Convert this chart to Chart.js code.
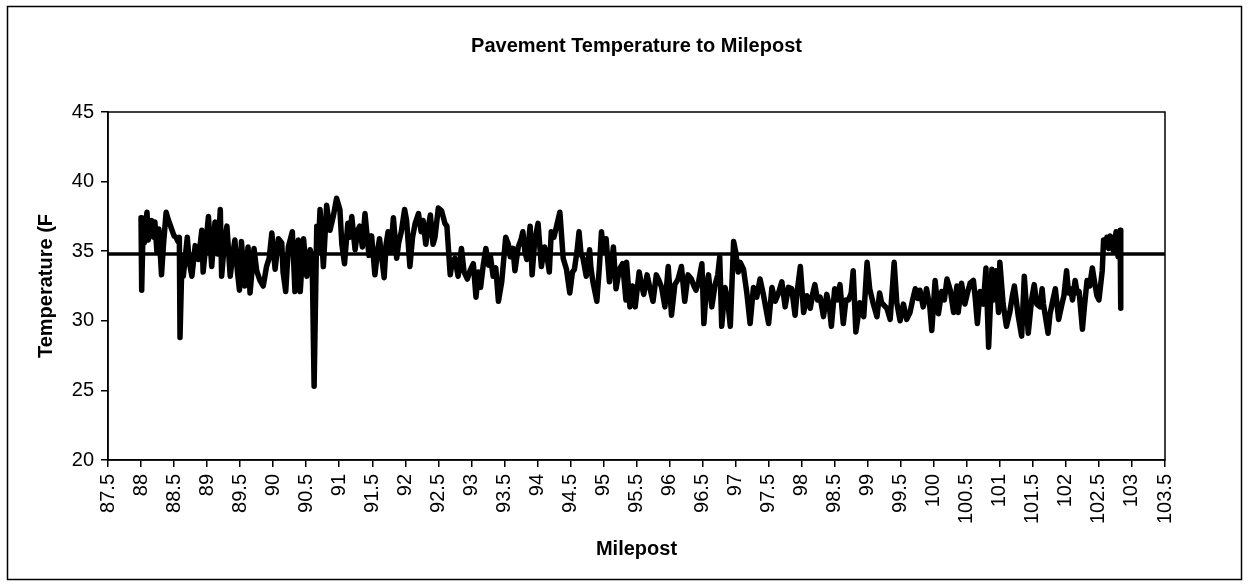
<!DOCTYPE html>
<html><head><meta charset="utf-8">
<script src="https://cdn.jsdelivr.net/npm/chart.js@4.4.1/dist/chart.umd.min.js"></script>
<style>html,body{margin:0;padding:0;background:#fff;}canvas{display:block;}</style>
</head><body><canvas id="c" width="1249" height="587"></canvas>
<script>
const milepost = [
88.00,88.01,88.03,88.05,88.07,88.09,88.11,88.13,88.16,88.19,88.21,88.24,88.27,88.31,88.34,88.38,88.41,88.44,88.47,88.50,
88.53,88.56,88.58,88.59,88.62,88.64,88.70,88.73,88.77,88.82,88.87,88.92,88.94,88.98,89.02,89.07,89.12,89.16,89.20,89.22,
89.26,89.30,89.35,89.39,89.42,89.46,89.49,89.52,89.57,89.62,89.65,89.71,89.75,89.80,89.85,89.90,89.94,89.98,90.03,90.08,
90.13,90.15,90.19,90.23,90.29,90.33,90.38,
90.41,90.46,90.51,90.56,90.59,90.62,90.66,90.68,90.71,90.76,90.81,90.86,90.91,90.96,91.01,91.04,91.08,91.13,91.16,91.19,
91.24,91.28,91.31,91.35,91.39,91.45,91.49,91.54,91.58,91.61,91.65,91.68,91.71,91.74,91.78,91.82,91.87,91.90,91.94,91.99,
92.02,92.07,92.11,92.15,92.20,92.24,92.27,92.31,92.35,92.38,92.42,92.45,92.50,92.55,92.60,92.63,92.68,92.71,92.75,92.80,
92.85,92.89,92.94,92.98,93.03,93.07,93.11,93.14,93.18,93.22,93.26,93.29,93.33,93.37,93.41,93.46,93.52,93.56,93.59,93.63,
93.66,93.71,93.75,93.78,93.81,93.84,93.89,93.92,93.96,94.01,94.06,94.09,94.11,94.15,94.18,94.21,94.25,94.29,94.34,94.36,
94.39,94.44,94.49,94.53,94.56,94.60,94.63,94.66,94.69,94.74,94.79,94.81,94.84,94.90,94.94,94.97,95.00,95.04,95.09,95.15,
95.19,95.24,95.29,95.34,
95.35,95.40,95.44,95.48,95.54,95.58,95.61,95.66,95.71,95.75,95.80,95.84,95.88,95.93,95.98,96.03,96.08,96.13,96.18,96.23,
96.28,96.33,96.37,96.40,96.44,96.49,96.52,96.56,96.59,96.64,96.69,96.73,96.76,96.79,96.84,96.88,96.92,96.97,97.00,97.04,
97.07,97.12,97.17,97.22,97.27,97.32,97.37,97.42,97.50,97.55,97.60,97.65,97.70,97.75,97.80,
97.85,97.90,97.93,97.98,98.03,98.08,98.13,98.17,98.20,98.24,98.28,98.33,98.38,98.42,98.45,98.50,98.54,98.58,98.63,98.67,
98.71,98.75,98.78,98.82,98.86,98.88,98.94,98.99,99.03,99.08,99.14,99.18,99.21,99.29,99.34,99.40,99.44,99.49,99.54,99.59,
99.64,99.68,99.72,99.76,99.79,99.84,99.89,99.94,99.97,100.02,100.07,100.12,100.16,100.20,100.25,100.30,100.35,
100.37,100.42,100.47,100.51,100.55,100.60,100.63,100.66,100.70,100.75,100.79,100.83,100.88,100.91,100.94,100.98,101.00,101.05,101.10,101.15,
101.19,101.22,101.28,101.33,101.37,101.41,101.43,101.48,101.52,101.56,101.61,101.64,101.66,101.73,101.76,101.79,101.84,101.89,101.94,101.97,
102.01,102.04,102.07,102.10,102.14,102.17,102.20,102.25,102.28,102.32,102.36,102.40,102.44,102.47,102.50,102.55,102.57,102.60,102.62,102.65,
102.67,102.70,102.72,102.76,102.79,102.82,102.83
];
const temperature = [
37.4,32.2,36.5,35.6,37.0,37.8,35.8,36.8,37.2,36.0,37.1,35.0,36.6,33.3,35.5,37.8,37.3,36.9,36.5,36.1,
36.0,35.7,36.0,28.8,34.5,33.2,36.0,34.2,33.2,35.4,34.4,36.5,33.5,35.4,37.5,33.9,37.1,34.8,38.0,33.2,
35.5,36.8,33.2,34.8,35.8,33.5,32.2,35.7,32.5,35.3,32.0,35.2,33.6,32.9,32.5,33.9,34.5,36.3,33.7,35.9,
35.6,33.5,32.1,35.3,36.4,32.1,35.8,
32.1,35.9,33.2,35.1,34.6,25.3,36.8,35.0,38.0,33.9,38.3,36.5,37.5,38.8,38.0,35.5,34.1,37.0,36.0,37.5,
35.1,36.5,36.8,35.3,37.7,34.7,36.1,33.3,35.0,35.9,34.3,33.1,35.5,36.4,35.0,37.4,34.5,35.6,36.4,38.0,
37.2,33.9,36.0,37.0,37.7,36.4,37.2,35.5,36.8,37.6,35.5,36.0,38.1,37.9,37.0,36.8,33.3,34.2,34.5,33.2,
35.2,33.5,33.0,33.6,34.1,31.7,33.5,32.4,34.0,35.2,34.0,34.6,33.2,33.8,31.4,32.8,36.0,35.5,34.6,35.2,
33.6,35.3,35.8,36.4,35.0,34.4,36.8,33.3,35.8,37.0,33.9,34.8,35.3,34.5,33.5,36.4,36.0,36.8,37.8,36.5,
34.5,33.7,32.0,33.5,33.7,35.0,36.4,34.8,34.5,33.2,35.1,33.8,32.8,31.4,34.0,36.4,35.0,35.9,32.8,35.3,
32.3,33.7,34.1,31.5,
34.2,31.0,32.5,31.0,33.5,32.5,31.9,33.3,32.2,31.4,33.3,32.9,32.4,31.0,33.9,30.4,32.6,33.0,33.9,31.4,
33.3,33.0,32.5,32.2,32.8,34.1,29.8,32.5,33.3,31.0,32.6,33.3,34.6,29.6,32.4,31.5,29.6,35.7,35.0,33.5,
34.2,33.7,32.0,29.8,32.4,31.7,33.0,31.9,29.8,32.4,31.4,32.0,32.8,31.0,32.4,
32.3,30.4,32.0,33.9,30.6,31.8,30.9,32.0,32.6,31.5,31.7,30.3,31.9,31.0,29.6,32.3,31.5,32.6,29.8,31.5,
31.5,32.0,33.6,29.2,30.5,31.3,30.3,34.2,32.3,31.3,30.3,32.0,31.3,30.9,30.1,34.2,31.3,30.0,31.2,30.1,
30.6,31.5,32.3,31.6,32.2,31.0,32.3,31.0,29.3,32.9,30.5,32.1,31.5,33.0,32.2,30.6,32.5,
30.6,32.7,31.2,32.0,32.7,32.9,31.5,29.8,32.1,31.2,33.8,28.1,33.7,31.5,33.6,30.6,34.2,31.2,29.6,30.6,
31.8,32.5,30.3,28.9,33.2,30.5,29.1,31.5,32.6,31.2,31.0,32.3,31.2,29.1,30.5,31.2,32.3,30.1,31.2,31.8,
33.6,32.0,32.3,31.5,32.9,32.0,32.1,29.4,31.0,32.9,32.5,33.8,32.6,31.8,31.5,33.6,35.8,35.3,36.0,35.2,
36.1,35.5,35.0,36.4,34.6,36.5,30.9
];
const averageMile = [87.5, 103.5];
const averageTemp = [34.8, 34.8];
const xRange = [87.5, 103.5];
const yRange = [20, 45];

const series = milepost.map((m, i) => ({x: m, y: temperature[i]}));
const avgSeries = averageMile.map((m, i) => ({x: m, y: averageTemp[i]}));

const frame = {
  id: 'frame',
  beforeDraw(chart) {
    const ctx = chart.ctx;
    ctx.save(); ctx.fillStyle = '#fff'; ctx.fillRect(0, 0, chart.width, chart.height); ctx.restore();
  },
  afterDraw(chart) {
    const {ctx, chartArea: a} = chart;
    ctx.save();
    ctx.strokeStyle = '#000';
    ctx.lineWidth = 1.5;
    ctx.strokeRect(a.left, a.top, a.right - a.left, a.bottom - a.top);
    ctx.strokeRect(7.5, 6.5, 1234, 573);
    ctx.restore();
  }
};

const FONT = "'Liberation Sans', Arial, sans-serif";
new Chart(document.getElementById('c'), {
  type: 'line',
  data: {
    datasets: [
      {data: series, borderColor: '#000', borderWidth: 5.5, pointRadius: 0, tension: 0,
       borderJoinStyle: 'round', borderCapStyle: 'round', fill: false},
      {data: avgSeries, borderColor: '#000', borderWidth: 3.5, pointRadius: 0, tension: 0, fill: false}
    ]
  },
  options: {
    responsive: false, animation: false, devicePixelRatio: 1,
    layout: {padding: {left: 30, right: 84, top: 34, bottom: 22}},
    plugins: {
      legend: {display: false}, tooltip: {enabled: false},
      title: {display: true, text: 'Pavement Temperature to Milepost', color: '#000', fullSize: false,
        font: {family: FONT, size: 20, weight: 'bold', lineHeight: 1.2}, padding: {top: 0, bottom: 54}}
    },
    scales: {
      x: {
        type: 'linear', min: xRange[0], max: xRange[1],
        afterFit: s => { s.height = 587 - 22 - 460; },
        border: {display: true, color: '#000', width: 1.5},
        grid: {display: true, drawOnChartArea: false, drawTicks: true, tickLength: 7, color: '#000', lineWidth: 1.5},
        ticks: {stepSize: 0.5, autoSkip: false, maxRotation: 90, minRotation: 90, padding: 7, color: '#000',
          font: {family: FONT, size: 20}, callback: v => String(Number(v.toFixed(1)))},
        title: {display: true, text: 'Milepost', color: '#000', font: {family: FONT, size: 20, weight: 'bold', lineHeight: 1.2}}
      },
      y: {
        min: yRange[0], max: yRange[1],
        afterFit: s => { s.width = 108 - 30; },
        border: {display: true, color: '#000', width: 1.5},
        grid: {display: true, drawOnChartArea: false, drawTicks: true, tickLength: 7, color: '#000', lineWidth: 1.5},
        ticks: {stepSize: 5, padding: 7, color: '#000', font: {family: FONT, size: 20}},
        title: {display: true, text: 'Temperature (F', color: '#000', font: {family: FONT, size: 20, weight: 'bold', lineHeight: 1.2}}
      }
    }
  },
  plugins: [frame]
});
</script></body></html>
